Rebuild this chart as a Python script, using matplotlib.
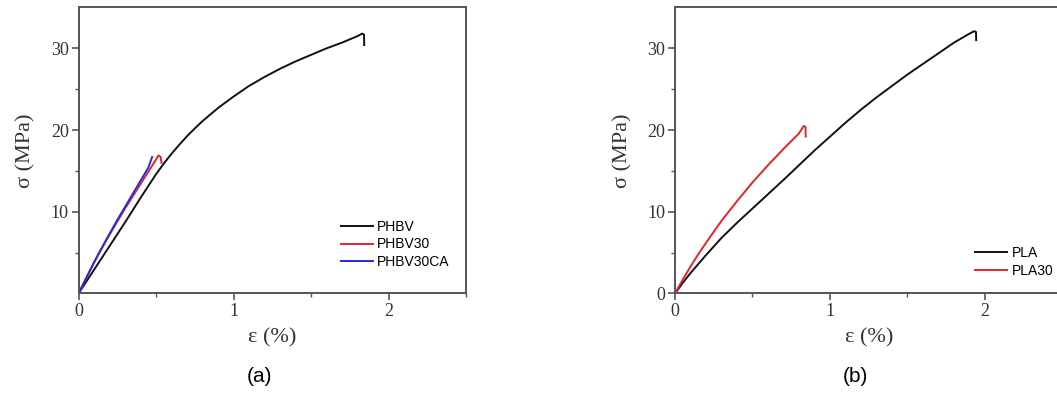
import numpy as np
from matplotlib import pyplot as plt

# (a) PHBV series: strain (%) and stress (MPa)
phbv_eps = [0, 0.1, 0.2, 0.3, 0.4, 0.5, 0.55, 0.6, 0.65, 0.7, 0.75, 0.8, 0.9,
            1.0, 1.1, 1.2, 1.3, 1.4, 1.5, 1.6, 1.7, 1.8, 1.83, 1.842, 1.843]
phbv_sig = [0, 2.9, 5.8, 8.7, 11.7, 14.6, 15.9, 17.1, 18.2, 19.25, 20.2, 21.1,
            22.7, 24.1, 25.4, 26.5, 27.5, 28.4, 29.2, 30.0, 30.7, 31.5, 31.8,
            31.7, 30.4]
phbv30_eps = [0, 0.05, 0.1, 0.15, 0.2, 0.25, 0.3, 0.35, 0.4, 0.45, 0.48, 0.5,
              0.515, 0.53, 0.535]
phbv30_sig = [0, 1.9, 3.8, 5.5, 7.2, 8.8, 10.4, 11.9, 13.4, 14.9, 15.8, 16.4,
              16.9, 16.7, 16.0]
phbv30ca_eps = [0, 0.05, 0.1, 0.15, 0.2, 0.25, 0.3, 0.35, 0.4, 0.45, 0.475]
phbv30ca_sig = [0, 1.9, 3.8, 5.6, 7.3, 9.0, 10.6, 12.2, 13.8, 15.4, 16.7]

# (b) PLA series
pla_eps = [0, 0.05, 0.1, 0.2, 0.3, 0.4, 0.5, 0.6, 0.7, 0.8, 0.9, 1.0, 1.1,
           1.2, 1.3, 1.4, 1.5, 1.6, 1.7, 1.8, 1.9, 1.93, 1.942, 1.943]
pla_sig = [0, 1.3, 2.5, 4.7, 6.8, 8.65, 10.4, 12.15, 13.9, 15.7, 17.5, 19.2,
           20.9, 22.5, 24.0, 25.4, 26.8, 28.1, 29.4, 30.7, 31.8, 32.1, 32.0, 31.0]
pla30_eps = [0, 0.05, 0.1, 0.15, 0.2, 0.3, 0.4, 0.5, 0.6, 0.7, 0.8, 0.83,
             0.842, 0.843]
pla30_sig = [0, 1.7, 3.3, 4.8, 6.2, 8.9, 11.3, 13.6, 15.7, 17.7, 19.6, 20.5,
             20.4, 19.2]

serif = ['Liberation Serif', 'DejaVu Serif']
sans = ['Liberation Sans', 'DejaVu Sans']
red = '#e2252d'
blue = '#2a2ad6'
spine_col = '#555555'


def style_axes(ax, yticks):
    ax.set_xlim(0, 2.5)
    ax.set_ylim(0, 35)
    ax.set_xticks([0, 1, 2])
    ax.set_xticks([0.5, 1.5, 2.5], minor=True)
    ax.set_yticks(yticks)
    ax.set_yticks([5, 15, 25], minor=True)
    for s in ax.spines.values():
        s.set_color(spine_col)
        s.set_linewidth(1.4)
    ax.tick_params(which='major', direction='out', length=5, width=1.2,
                   color=spine_col, labelsize=13, pad=2)
    ax.tick_params(which='minor', direction='out', length=3, width=1.0,
                   color=spine_col)
    for lbl in ax.get_xticklabels() + ax.get_yticklabels():
        lbl.set_fontfamily(serif)
        lbl.set_color('#333333')
    ax.set_xlabel('ε (%)', family=serif, fontsize=16, color='#333333', labelpad=6)
    ax.set_ylabel('σ (MPa)', family=serif, fontsize=16, color='#333333', labelpad=11)


fig = plt.figure(figsize=(10.57, 3.94), dpi=100)
ax1 = fig.add_axes([0.0743, 0.2551, 0.3666, 0.7259])
ax2 = fig.add_axes([0.6386, 0.2551, 0.3666, 0.7259])

lw = 1.4
ax1.plot(phbv_eps, phbv_sig, color='#111111', lw=lw, label='PHBV')
ax1.plot(phbv30_eps, phbv30_sig, color=red, lw=lw, label='PHBV30')
ax1.plot(phbv30ca_eps, phbv30ca_sig, color=blue, lw=lw, label='PHBV30CA')
style_axes(ax1, [10, 20, 30])
ax1.legend(loc='upper left', bbox_to_anchor=(0.677, 0.257), frameon=False,
           prop={'family': sans, 'size': 10}, handlelength=2.3,
           handletextpad=0.3, labelspacing=0.25, borderpad=0, borderaxespad=0)

ax2.plot(pla_eps, pla_sig, color='#111111', lw=lw, label='PLA')
ax2.plot(pla30_eps, pla30_sig, color=red, lw=lw, label='PLA30')
style_axes(ax2, [0, 10, 20, 30])
ax2.legend(loc='upper left', bbox_to_anchor=(0.775, 0.165), frameon=False,
           prop={'family': sans, 'size': 10}, handlelength=2.3,
           handletextpad=0.3, labelspacing=0.25, borderpad=0, borderaxespad=0)

fig.text(260 / 1057, 1 - 377 / 394, '(a)', family=sans, fontsize=15,
         ha='center', va='center')
fig.text(855 / 1057, 1 - 377 / 394, '(b)', family=sans, fontsize=15,
         ha='center', va='center')

fig.savefig('out.png', dpi=100)
